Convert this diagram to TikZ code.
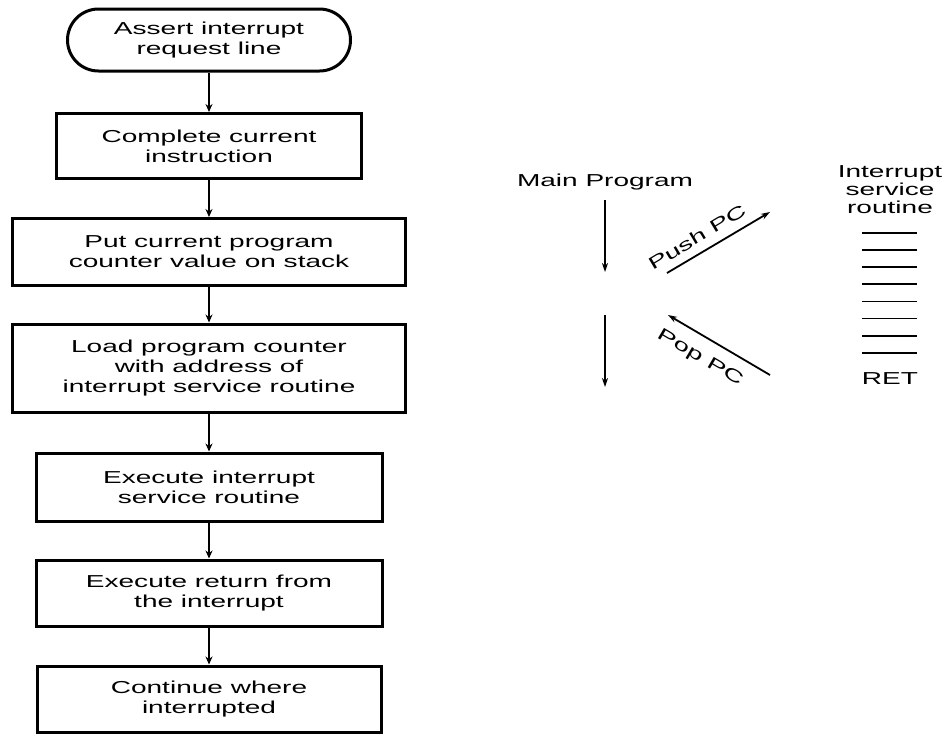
\documentclass[tikz,border=0pt]{standalone}
\usepackage{fontspec}
\setmainfont{Liberation Sans}[FakeStretch=1.62]
\usetikzlibrary{arrows.meta,positioning}
\tikzset{
  stepbox/.style={draw,line width=3pt,align=center,inner sep=2pt},
  term/.style={stepbox,rounded corners=31pt,minimum width=283pt,minimum height=62pt},
  flow/.style={-{Stealth[length=8pt,width=7pt]},line width=2.2pt},
  jump/.style={-{Stealth[length=9pt,width=6pt]},line width=1.8pt},
  isrline/.style={line width=1.8pt},
}

\begin{document}
\begin{tikzpicture}[x=1pt,y=-1pt,font=\fontsize{17.3}{20}\selectfont]
    \useasboundingbox (0,0) rectangle (945,742);
    % flowchart of the interrupt sequence
    \node[term] (assert) at (209,40) {Assert interrupt\\request line};
    \node[stepbox,minimum width=305pt,minimum height=65pt] (complete) at (209,146) {Complete current\\instruction};
    \node[stepbox,minimum width=393pt,minimum height=67pt] (putpc) at (209,252) {Put current program\\counter value on stack};
    \node[stepbox,minimum width=393pt,minimum height=88pt] (loadpc) at (209,368) {Load program counter\\with address of\\interrupt service routine};
    \node[stepbox,minimum width=346pt,minimum height=68pt] (execisr) at (209,487) {Execute interrupt\\service routine};
    \node[stepbox,minimum width=346pt,minimum height=66pt] (execret) at (209,593) {Execute return from\\the interrupt};
    \node[stepbox,minimum width=344pt,minimum height=66pt] (resume) at (209,699) {Continue where\\interrupted};
    \foreach \a/\b in {assert/complete,complete/putpc,putpc/loadpc,loadpc/execisr,execisr/execret,execret/resume}
       \draw[flow] (\a.south) -- (\b.north);
    % main program and the jump to the service routine
    \node (mainprog) at (605,182) {Main Program};
    \coordinate (m1) at (605,200);
    \coordinate (m2) at (605,272);
    \coordinate (m3) at (605,315);
    \coordinate (m4) at (605,387);
    \draw[jump] (m1) -- (m2);
    \draw[jump] (m3) -- (m4);
    \coordinate (pushA) at (667,273);
    \coordinate (pushB) at (770,212);
    \draw[jump] (pushA) -- (pushB);
    \node[rotate=31] (pushlab) at (697,237) {Push PC};
    \coordinate (popA) at (770,375);
    \coordinate (popB) at (668,315);
    \draw[jump] (popA) -- (popB);
    \node[rotate=-30.5] (poplab) at (700,358) {Pop PC};
    % service routine listing
    \node[align=center,font=\fontsize{17.3}{18}\selectfont] (isr) at (890,190) {Interrupt\\service\\routine};
    \foreach \k in {0,...,7}
       \draw[isrline] (862,233+17.1*\k) -- (917,233+17.1*\k);
    \node (retlab) at (890,379) {RET};
\end{tikzpicture}
\end{document}
